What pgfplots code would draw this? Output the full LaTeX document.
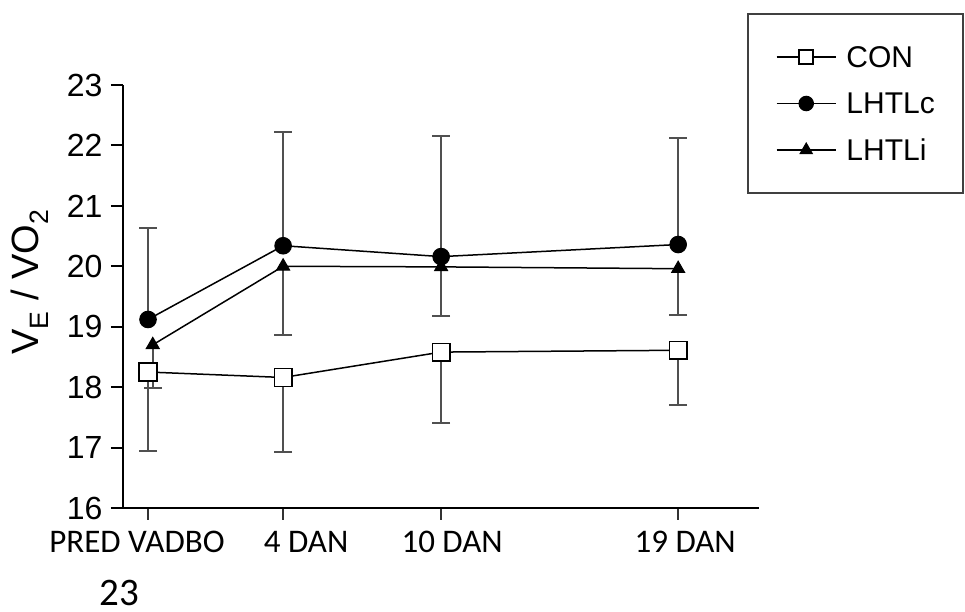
\documentclass[border=0pt]{standalone}
\usepackage{pgfplots}
\pgfplotsset{compat=1.18}
\usepackage{fontspec}
\setmainfont{Liberation Sans}
\newfontfamily\calib{Carlito}
\definecolor{errgray}{HTML}{505050}
\begin{document}
\begin{tikzpicture}
\path[use as bounding box] (0,0) rectangle (965pt,612pt);
\begin{axis}[
  at={(123pt,104pt)}, anchor=south west,
  width=636pt, height=423pt, scale only axis,
  xmin=-2.08, xmax=22.07, ymin=16, ymax=23,
  axis x line*=bottom, axis y line*=left,
  axis line style={line width=2pt, black, -},
  xtick={-1.13,4,10,19},
  xticklabels={\kern-22pt PRED VADBO, \kern46pt 4 DAN, \kern22pt 10 DAN, \kern14pt 19 DAN},
  ytick={16,17,18,19,20,21,22,23},
  tick align=outside, major tick length=12pt,
  ytick style={line width=2pt, black},
  xtick style={line width=1.6pt, black!80},
  /pgf/number format/assume math mode=true,
  yticklabel style={font=\fontsize{32}{32}\selectfont, xshift=-5pt},
  xticklabel style={font=\calib\fontsize{33}{33}\selectfont, yshift=-8pt},
  ylabel={V\textsubscript{E} / VO\textsubscript{2}},
  every axis y label/.style={at={(rel axis cs:-0.1462,0.534)}, rotate=90, anchor=center, font=\fontsize{38}{38}\selectfont},
  clip=false,
  legend cell align=left,
  legend style={at={(0.9811,1.1702)}, anchor=north west, draw=black!75, line width=2pt,
    inner xsep=28pt, inner ysep=33pt, row sep=26.5pt, column sep=10pt,
    nodes={inner sep=0pt, text height=20pt, text depth=0pt},
    font=\fontsize{30}{30}\selectfont},
  legend image code/.code={\draw[mark repeat=2,mark phase=2,#1] plot coordinates {(0pt,0pt) (29.5pt,0pt) (59pt,0pt)};},
]
% LHTLi
\addplot[forget plot, black, line width=1.5pt, mark=triangle*, mark size=7.5pt,
  mark options={fill=black, line width=1pt},
  error bars/.cd, y dir=minus, y explicit,
  error bar style={errgray, line width=2pt},
  error mark options={errgray, rotate=90, mark size=9pt, line width=2pt}]
  coordinates {(-0.95,18.70) +- (0,0.71) (4,20.00) +- (0,1.13) (10,19.99) +- (0,0.82) (19,19.96) +- (0,0.77)};
% LHTLc
\addplot[forget plot, black, line width=1.5pt, mark=*, mark size=8.3pt,
  mark options={fill=black, line width=1pt},
  error bars/.cd, y dir=plus, y explicit,
  error bar style={errgray, line width=2pt},
  error mark options={errgray, rotate=90, mark size=9pt, line width=2pt}]
  coordinates {(-1.13,19.12) +- (0,1.51) (4,20.34) +- (0,1.88) (10,20.16) +- (0,2.00) (19,20.36) +- (0,1.76)};
% CON
\addplot[forget plot, black, line width=1.5pt, mark=square*, mark size=8.8pt,
  mark options={fill=white, line width=1.5pt},
  error bars/.cd, y dir=minus, y explicit,
  error bar style={errgray, line width=2pt},
  error mark options={errgray, rotate=90, mark size=9pt, line width=2pt}]
  coordinates {(-1.13,18.25) +- (0,1.31) (4,18.16) +- (0,1.23) (10,18.58) +- (0,1.18) (19,18.61) +- (0,0.91)};
\addlegendimage{black, line width=1.5pt, mark=square*, mark size=7pt, mark options={fill=white}}
\addlegendentry{CON}
\addlegendimage{black, line width=1.5pt, mark=*, mark size=7pt, mark options={fill=black}}
\addlegendentry{LHTLc}
\addlegendimage{black, line width=1.5pt, mark=triangle*, mark size=6.5pt, mark options={fill=black}}
\addlegendentry{LHTLi}
\end{axis}
\node[font=\calib\fontsize{39}{39}\selectfont, inner sep=0pt, anchor=base] at (119.5pt,6pt) {23};
\end{tikzpicture}
\end{document}
